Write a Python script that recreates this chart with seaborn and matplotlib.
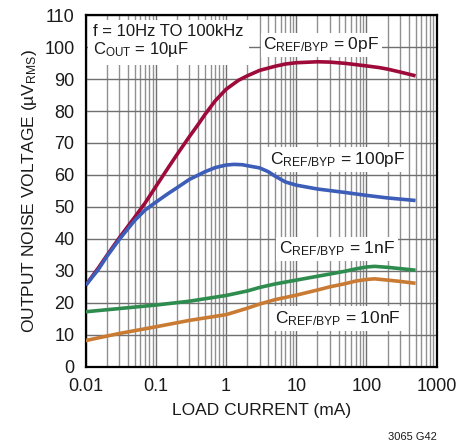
import matplotlib
matplotlib.use("Agg")
import matplotlib.pyplot as plt
import seaborn as sns
import pandas as pd
import numpy as np
from matplotlib.ticker import LogLocator, FixedLocator, NullFormatter

# ---- data ----
x_red = [0.01, 0.015, 0.02, 0.03, 0.05, 0.07, 0.1, 0.15, 0.2, 0.3, 0.4, 0.5, 0.7, 1, 1.5, 2, 3, 5, 7, 10,
         20, 30, 50, 100, 150, 200, 300, 500]
y_red = [25.5, 30.8, 34.8, 40.3, 46.8, 51.2, 56.4, 62.3, 66.4, 72, 75.8, 78.9, 83.2, 86.8, 89.6, 91, 92.7, 94, 94.7, 95.1,
         95.4, 95.3, 94.9, 94.1, 93.6, 93.1, 92.2, 91]

x_blue = [0.01, 0.015, 0.02, 0.03, 0.05, 0.07, 0.1, 0.15, 0.2, 0.3, 0.5, 0.7, 1, 1.3, 1.7, 2, 3, 4, 5, 7, 10,
          20, 50, 100, 200, 500]
y_blue = [25.5, 30.3, 34.5, 39.8, 45.8, 49, 51.5, 54.2, 56, 58.6, 61, 62.3, 63.1, 63.3, 63.2, 62.9, 62.2, 61, 59.6, 57.8, 56.8,
          55.6, 54.5, 53.6, 52.8, 52]

x_green = [0.01, 0.03, 0.1, 0.3, 1, 2, 3, 5, 10, 20, 30, 50, 70, 100, 130, 200, 300, 500]
y_green = [17.2, 18.2, 19.3, 20.5, 22.3, 23.7, 24.8, 25.9, 27.1, 28.3, 29, 29.9, 30.6, 31.2, 31.4, 31.1, 30.7, 30.2]

x_orange = [0.01, 0.03, 0.1, 0.3, 1, 2, 3, 5, 10, 20, 30, 50, 70, 100, 130, 200, 300, 500]
y_orange = [8.2, 10.4, 12.5, 14.5, 16.3, 18.3, 19.6, 21, 22.4, 24, 25, 26, 26.8, 27.3, 27.5, 27.1, 26.7, 26.1]

series_names = ["0pF", "100pF", "1nF", "10nF"]
colors = ["#9E0B3A", "#3C5DB8", "#2E8C4E", "#C97B34"]

x_ticks = [0.01, 0.1, 1, 10, 100, 1000]
x_ticklabels = ["0.01", "0.1", "1", "10", "100", "1000"]
y_ticks = list(range(0, 111, 10))

frames = []
for name, xs, ys in zip(series_names, [x_red, x_blue, x_green, x_orange],
                        [y_red, y_blue, y_green, y_orange]):
    frames.append(pd.DataFrame({"I": xs, "V": ys, "C": name}))
df = pd.concat(frames, ignore_index=True)

# ---- style ----
sns.set_style("white")
fam = ["Liberation Sans Narrow", "Liberation Sans", "DejaVu Sans"]
plt.rcParams["font.family"] = fam
plt.rcParams["mathtext.fontset"] = "custom"
plt.rcParams["mathtext.rm"] = "Liberation Sans"
plt.rcParams["mathtext.it"] = "Liberation Sans:italic"

fig = plt.figure(figsize=(4.72, 4.44), dpi=100)
ax = fig.add_axes([0.1816, 0.174, 0.7436, 0.792])

sns.lineplot(data=df, x="I", y="V", hue="C", palette=dict(zip(series_names, colors)),
             hue_order=series_names, linewidth=2.6, ax=ax, legend=False, sort=True,
             estimator=None, zorder=5)
for ln in ax.lines:
    ln.set_solid_joinstyle("round")
    ln.set_solid_capstyle("butt")

ax.set_xscale("log")
ax.set_xlim(0.01, 1000)
ax.set_ylim(0, 110)
ax.xaxis.set_major_locator(FixedLocator(x_ticks))
ax.set_xticklabels(x_ticklabels)
ax.xaxis.set_minor_locator(LogLocator(base=10, subs=np.arange(2, 10)))
ax.xaxis.set_minor_formatter(NullFormatter())
ax.yaxis.set_major_locator(FixedLocator(y_ticks))

ax.grid(True, which="major", axis="both", color="#707070", linewidth=1.0, zorder=0)
ax.grid(True, which="minor", axis="x", color="#909090", linewidth=1.0, zorder=0)
ax.set_axisbelow(True)

for s in ax.spines.values():
    s.set_color("black")
    s.set_linewidth(1.6)

ax.tick_params(axis="both", which="both", length=0, labelsize=13, colors="#1a1a1a")
ax.tick_params(axis="x", pad=8)
ax.tick_params(axis="y", pad=8)

ax.set_xlabel("LOAD CURRENT (mA)", fontsize=12.5, labelpad=6, color="#1a1a1a")
ax.set_ylabel(r"OUTPUT NOISE VOLTAGE (µV$_{\mathrm{RMS}}$)", fontsize=12.5, labelpad=4, color="#1a1a1a")

box = dict(facecolor="white", edgecolor="none", pad=2)
tk = dict(color="#1a1a1a", zorder=4)

ax.text(0.022, 0.975, "f = 10Hz TO 100kHz\nC$_{\\mathrm{OUT}}$ = 10µF", transform=ax.transAxes,
        ha="left", va="top", linespacing=1.1, fontsize=12,
        bbox=dict(facecolor="white", edgecolor="none", pad=4), **tk)
ax.text(0.672, 0.915, r"C$_{\mathrm{REF/BYP}}$ = 0pF", transform=ax.transAxes,
        ha="center", va="center", fontsize=12.5, bbox=box, **tk)
ax.text(0.717, 0.59, r"C$_{\mathrm{REF/BYP}}$ = 100pF", transform=ax.transAxes,
        ha="center", va="center", fontsize=12.5, bbox=box, **tk)
ax.text(0.715, 0.335, r"C$_{\mathrm{REF/BYP}}$ = 1nF", transform=ax.transAxes,
        ha="center", va="center", fontsize=12.5, bbox=box, **tk)
ax.text(0.718, 0.137, r"C$_{\mathrm{REF/BYP}}$ = 10nF", transform=ax.transAxes,
        ha="center", va="center", fontsize=12.5, bbox=box, **tk)

fig.text(0.925, 0.005, "3065 G42", ha="right", va="bottom", fontsize=8, color="#1a1a1a")

fig.savefig("out.png", dpi=100)
